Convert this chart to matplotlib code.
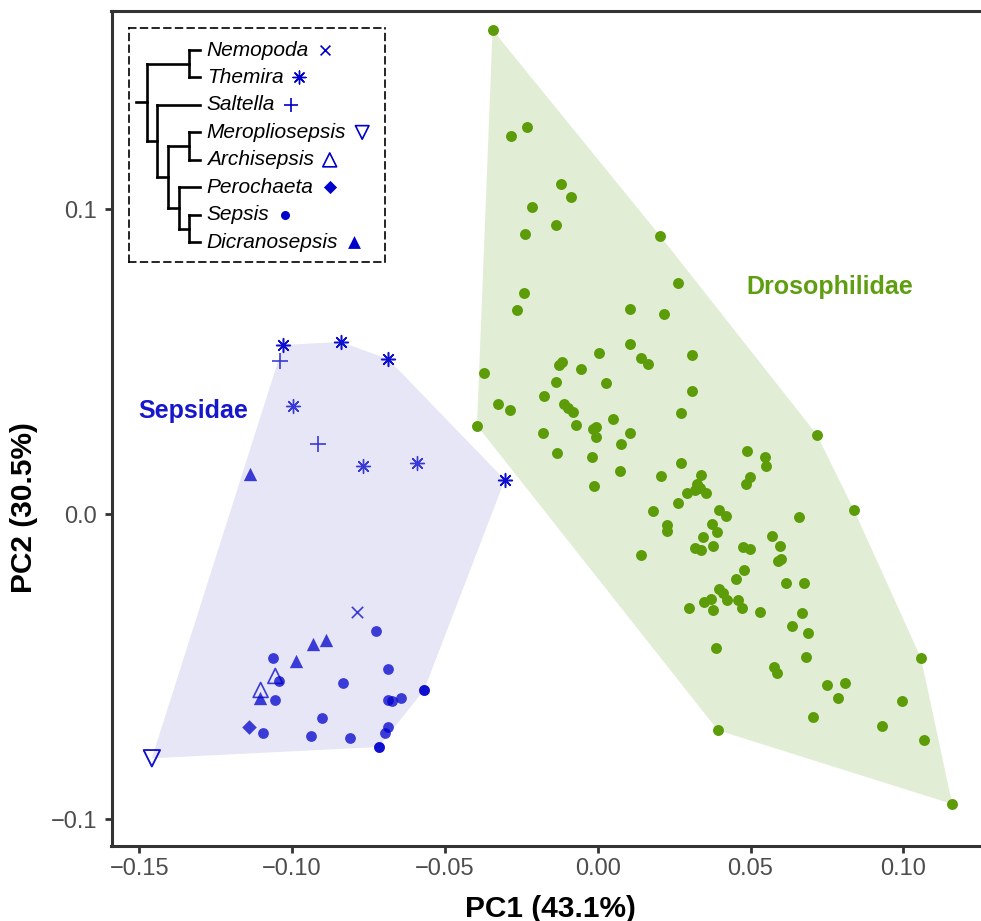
import numpy as np
import matplotlib
matplotlib.use("Agg")
import matplotlib.pyplot as plt

plt.rcParams["font.family"] = ["Liberation Sans", "DejaVu Sans"]

# Drosophilidae scores (PC1, PC2)
dros_pc1 = [
    -0.0344, -0.0232, -0.0284, -0.0121, -0.0086, -0.0214, -0.0137, -0.0238, 0.0204, 0.0263,
    -0.0240, -0.0264, 0.0105, 0.0218, 0.0107, 0.0003, 0.0310, 0.0142, 0.0165, -0.0128,
    -0.0116, -0.0054, -0.0373, -0.0137, 0.0026, 0.0309, -0.0175, -0.0110, -0.0097, -0.0082,
    -0.0325, -0.0287, 0.0274, 0.0050, -0.0070, -0.0395, -0.0005, -0.0015, -0.0005, -0.0179,
    0.0106, 0.0075, -0.0132, 0.0490, -0.0018, 0.0272, 0.0072, 0.0208, 0.0337, 0.0498,
    0.0484, -0.0011, 0.0326, 0.0318, 0.0292, 0.0353, 0.0335, 0.0263, 0.0182, 0.0397,
    0.0419, 0.0228, 0.0228, 0.0373, 0.0390, 0.0345, 0.0378, 0.0319, 0.0339, 0.0476,
    0.0498, 0.0141, 0.0479, 0.0452, 0.0717, 0.0547, 0.0550, 0.0838, 0.0659, 0.0569,
    0.0596, 0.0591, 0.0601, 0.0617, 0.0676, 0.0396, 0.0409, 0.0424, 0.0370, 0.0347,
    0.0377, 0.0299, 0.0460, 0.0471, 0.0530, 0.0668, 0.0636, 0.0689, 0.0388, 0.0681,
    0.1058, 0.0578, 0.0587, 0.0749, 0.0809, 0.0787, 0.0996, 0.0706, 0.0930, 0.1067,
    0.0393, 0.1160,
]
dros_pc2 = [
    0.1588, 0.1271, 0.1241, 0.1082, 0.1041, 0.1009, 0.0948, 0.0918, 0.0913, 0.0758,
    0.0725, 0.0671, 0.0673, 0.0656, 0.0559, 0.0530, 0.0523, 0.0513, 0.0492, 0.0490,
    0.0499, 0.0475, 0.0463, 0.0435, 0.0432, 0.0405, 0.0387, 0.0363, 0.0348, 0.0336,
    0.0361, 0.0343, 0.0333, 0.0312, 0.0293, 0.0291, 0.0286, 0.0279, 0.0253, 0.0268,
    0.0266, 0.0232, 0.0202, 0.0207, 0.0187, 0.0168, 0.0142, 0.0125, 0.0129, 0.0122,
    0.0100, 0.0094, 0.0099, 0.0080, 0.0071, 0.0069, 0.0085, 0.0037, 0.0011, 0.0014,
    -0.0007, -0.0035, -0.0054, -0.0033, -0.0058, -0.0075, -0.0103, -0.0110, -0.0117, -0.0106,
    -0.0115, -0.0134, -0.0182, -0.0212, 0.0261, 0.0189, 0.0159, 0.0015, -0.0010, -0.0072,
    -0.0104, -0.0152, -0.0147, -0.0225, -0.0224, -0.0246, -0.0257, -0.0280, -0.0279, -0.0287,
    -0.0314, -0.0307, -0.0282, -0.0308, -0.0319, -0.0324, -0.0365, -0.0390, -0.0438, -0.0467,
    -0.0472, -0.0500, -0.0519, -0.0559, -0.0553, -0.0603, -0.0612, -0.0666, -0.0694, -0.0739,
    -0.0708, -0.0950,
]

# Sepsidae scores, one genus per point
sep_genus = (["Themira"] * 7 + ["Saltella"] * 2 + ["Nemopoda"] + ["Dicranosepsis"] * 5
             + ["Archisepsis"] * 2 + ["Perochaeta"] + ["Meropliosepsis"] + ["Sepsis"] * 17)
sep_pc1 = [
    -0.1029, -0.0841, -0.0686, -0.0998, -0.0769, -0.0592, -0.0304,
    -0.1041, -0.0916,
    -0.0789,
    -0.1139, -0.0890, -0.0931, -0.0987, -0.1104,
    -0.1055, -0.1103,
    -0.1141,
    -0.1459,
    -0.0726, -0.1064, -0.0685, -0.1044, -0.0834, -0.1056, -0.0685, -0.0674, -0.0645,
    -0.0568, -0.0902, -0.1094, -0.0938, -0.0810, -0.0685, -0.0696, -0.0717,
]
sep_pc2 = [
    0.0555, 0.0565, 0.0509, 0.0355, 0.0159, 0.0169, 0.0113,
    0.0503, 0.0231,
    -0.0320,
    0.0131, -0.0412, -0.0426, -0.0480, -0.0601,
    -0.0530, -0.0576,
    -0.0697,
    -0.0800,
    -0.0383, -0.0471, -0.0507, -0.0546, -0.0554, -0.0610, -0.0609, -0.0613, -0.0602,
    -0.0576, -0.0667, -0.0718, -0.0727, -0.0733, -0.0696, -0.0716, -0.0763,
]

# Sepsid phylogeny (topology only)
tree = (("Nemopoda", "Themira"),
        ("Saltella", (("Meropliosepsis", "Archisepsis"),
                      ("Perochaeta", ("Sepsis", "Dicranosepsis")))))

x_ticks = [-0.15, -0.10, -0.05, 0.00, 0.05, 0.10]
x_ticklabels = ["\u22120.15", "\u22120.10", "\u22120.05", "0.00", "0.05", "0.10"]
y_ticks = [-0.1, 0.0, 0.1]
y_ticklabels = ["\u22120.1", "0.0", "0.1"]

BLUE = "#0000CD"
GREEN = "#5C9C08"
AXC = "#333333"

# marker, size in plot, size in key, filled
genus_style = {
    "Nemopoda": ("x", 66, 50, True),
    "Themira": ((8, 2, 0), 100, 85, True),
    "Saltella": ("+", 128, 110, True),
    "Meropliosepsis": ("v", 140, 95, False),
    "Archisepsis": ("^", 115, 100, False),
    "Perochaeta": ("D", 55, 45, True),
    "Sepsis": ("o", 60, 42, True),
    "Dicranosepsis": ("^", 92, 85, True),
}


def hull_index(x, y):
    pts = sorted(range(len(x)), key=lambda i: (x[i], y[i]))

    def cross(o, a, b):
        return (x[a] - x[o]) * (y[b] - y[o]) - (y[a] - y[o]) * (x[b] - x[o])

    lower, upper = [], []
    for i in pts:
        while len(lower) >= 2 and cross(lower[-2], lower[-1], i) <= 0:
            lower.pop()
        lower.append(i)
    for i in reversed(pts):
        while len(upper) >= 2 and cross(upper[-2], upper[-1], i) <= 0:
            upper.pop()
        upper.append(i)
    return lower[:-1] + upper[:-1]


def draw_point(ax, g, px, py, alpha, key=False):
    m, s_plot, s_key, filled = genus_style[g]
    s = s_key if key else s_plot
    if m in ("x", "+") or isinstance(m, tuple):
        lw = 1.0 if isinstance(m, tuple) else 1.2
        ax.scatter(px, py, marker=m, s=s, color=BLUE, alpha=alpha, linewidths=lw, zorder=4)
    elif filled:
        ax.scatter(px, py, marker=m, s=s, color=BLUE, alpha=alpha, linewidths=0, zorder=4)
    else:
        ax.scatter(px, py, marker=m, s=s, facecolors="none", edgecolors=BLUE,
                   alpha=alpha, linewidths=1.2, zorder=4)


fig = plt.figure(figsize=(9.81, 9.21), dpi=100)
ax = fig.add_axes([111.5 / 981, (921 - 845.7) / 921, (990 - 111.5) / 981, (845.7 - 11) / 921])

# convex hulls
sx, sy = np.array(sep_pc1), np.array(sep_pc2)
dx, dy = np.array(dros_pc1), np.array(dros_pc2)
sh = hull_index(sep_pc1, sep_pc2)
dh = hull_index(dros_pc1, dros_pc2)
ax.fill(sx[sh], sy[sh], color="#E6E6F6", lw=0, zorder=1)
ax.fill(dx[dh], dy[dh], color="#E2EDD6", lw=0, zorder=1)

ax.scatter(dx, dy, s=62, color=GREEN, linewidths=0, zorder=3)

genus_arr = np.array(sep_genus)
for g in genus_style:
    sel = genus_arr == g
    draw_point(ax, g, sx[sel], sy[sel], 0.75)
# hull vertices are plotted a second time
for i in sh:
    draw_point(ax, sep_genus[i], sx[i], sy[i], 0.75)

ax.text(-0.13236, 0.03148, "Sepsidae", color="#1616CC", fontsize=18,
        fontweight="bold", ha="center", va="baseline")
ax.text(0.07601, 0.07223, "Drosophilidae", color="#5E9E10", fontsize=18,
        fontweight="bold", ha="center", va="baseline")

ax.set_xlim(-0.1591, 0.12837)
ax.set_ylim(-0.10866, 0.1650)
ax.set_xticks(x_ticks)
ax.set_xticklabels(x_ticklabels)
ax.set_yticks(y_ticks)
ax.set_yticklabels(y_ticklabels)
ax.tick_params(axis="both", length=5, width=2.0, color=AXC, labelsize=17, labelcolor="#4D4D4D")
ax.tick_params(axis="x", pad=3.5)
ax.tick_params(axis="y", pad=5.5)
for sp in ax.spines.values():
    sp.set_color(AXC)
    sp.set_linewidth(2.2)

ax.set_xlabel("PC1 (43.1%)", fontsize=21.5, fontweight="bold", va="baseline")
ax.xaxis.set_label_coords(0.5, -(916.7 - 845.7) / 834.7)
ax.set_ylabel("PC2 (30.5%)", fontsize=21.5, fontweight="bold", va="center")
ax.yaxis.set_label_coords((24 - 111.5) / 878.5, (845.7 - 508) / 834.7)

# phylogeny key, in pixel units of its own box
lax = fig.add_axes([129 / 981, (921 - 262) / 921, 256 / 981, 234 / 921])
lax.set_xlim(0, 256)
lax.set_ylim(234, 0)
lax.set_xticks([])
lax.set_yticks([])
lax.patch.set_alpha(0)
for sp in lax.spines.values():
    sp.set_linestyle((0, (4, 3)))
    sp.set_linewidth(1.2)
    sp.set_color("black")

TIP_X, STEP = 71.0, 10.7
TIP_Y0, TIP_DY = 22.0, 27.47


def tips(node):
    return [node] if isinstance(node, str) else [t for c in node for t in tips(c)]


def height(node):
    return 0 if isinstance(node, str) else 1 + max(height(c) for c in node)


tip_y = {name: TIP_Y0 + k * TIP_DY for k, name in enumerate(tips(tree))}
line_kw = dict(color="black", lw=1.9, solid_capstyle="projecting")


def draw_node(node):
    if isinstance(node, str):
        return TIP_X, tip_y[node]
    nx = TIP_X - height(node) * STEP
    kids = [draw_node(c) for c in node]
    ys = [k[1] for k in kids]
    lax.plot([nx, nx], [min(ys), max(ys)], **line_kw)
    for kx, ky in kids:
        lax.plot([nx, kx], [ky, ky], **line_kw)
    return nx, float(np.mean(ys))


rx, ry = draw_node(tree)
lax.plot([rx - STEP, rx], [ry, ry], **line_kw)

labels = {}
for name in tips(tree):
    labels[name] = lax.text(TIP_X + 6.7, tip_y[name], name, fontsize=15, style="italic",
                            ha="left", va="center")

fig.canvas.draw()
inv = lax.transData.inverted()
for name, t in labels.items():
    bb = t.get_window_extent()
    x_end = inv.transform((bb.x1, bb.y0))[0]
    draw_point(lax, name, x_end + 16, tip_y[name], 1.0, key=True)

fig.savefig("out.png", dpi=100)
